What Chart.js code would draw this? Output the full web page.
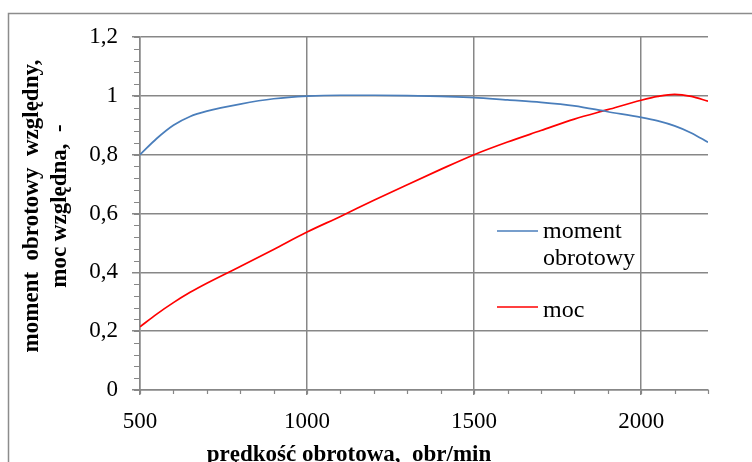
<!DOCTYPE html>
<html>
<head>
<meta charset="utf-8">
<script src="https://cdn.jsdelivr.net/npm/chart.js@4/dist/chart.umd.min.js"></script>
<style>
html,body{margin:0;padding:0;background:#fff;}
canvas{display:block;}
</style>
</head>
<body>
<canvas id="c" width="752" height="462"></canvas>
<script>
// ---- data ----
const rpm     = [500, 550, 600, 650, 700, 800, 900, 1000, 1100, 1200, 1300, 1400, 1500, 1600, 1700, 1800, 1900, 2000, 2050, 2100, 2150, 2200];
const moment  = [0.80, 0.855, 0.90, 0.93, 0.948, 0.972, 0.99, 0.999, 1.002, 1.002, 1.001, 0.998, 0.994, 0.986, 0.978, 0.966, 0.946, 0.927, 0.915, 0.898, 0.874, 0.842];
const moc     = [0.215, 0.258, 0.297, 0.332, 0.363, 0.42, 0.478, 0.537, 0.59, 0.645, 0.698, 0.75, 0.80, 0.843, 0.882, 0.921, 0.953, 0.985, 0.998, 1.005, 0.998, 0.982];
const seriesNames = [["moment", "obrotowy"], ["moc"]];
const xTitle = "prędkość obrotowa,  obr/min";
const yTitle = ["moment  obrotowy  względny,", "moc względna,  -"];
const yTicks = [0, 0.2, 0.4, 0.6, 0.8, 1, 1.2];
const xTicks = [500, 1000, 1500, 2000];

const GRID = '#878787';
const SERIF = '"Liberation Serif", "Times New Roman", serif';

const pts = arr => rpm.map((r, i) => ({x: r, y: arr[i]}));

const extras = {
  id: 'extras',
  beforeDraw(chart) {
    const ctx = chart.ctx;
    ctx.save();
    ctx.fillStyle = '#fff';
    ctx.fillRect(0, 0, chart.width, chart.height);
    ctx.strokeStyle = '#8c8c8c';
    ctx.lineWidth = 1.5;
    ctx.strokeRect(8.5, 13.5, 800, 500);
    ctx.restore();
  },
  afterDraw(chart) {
    const ctx = chart.ctx;
    const xs = chart.scales.x, ys = chart.scales.y;
    const ca = chart.chartArea;
    ctx.save();
    // minor ticks
    ctx.strokeStyle = GRID;
    ctx.lineWidth = 1.2;
    ctx.beginPath();
    for (let v = 0; v <= 1.2001; v += 0.04) {
      const y = Math.round(ys.getPixelForValue(v)) + 0.5;
      ctx.moveTo(ca.left - 6, y); ctx.lineTo(ca.left, y);
    }
    for (let v = 500; v <= 2200; v += 100) {
      const x = Math.round(xs.getPixelForValue(v)) + 0.5;
      ctx.moveTo(x, ca.bottom); ctx.lineTo(x, ca.bottom + 4);
    }
    ctx.stroke();

    // axis titles
    ctx.fillStyle = '#000';
    ctx.font = 'bold 23px ' + SERIF;
    ctx.textAlign = 'center';
    ctx.textBaseline = 'alphabetic';
    ctx.fillText(xTitle, 349, 461);
    const cy = 206;
    const bx = [38, 66];
    yTitle.forEach((t, i) => {
      ctx.save();
      ctx.translate(bx[i], cy);
      ctx.rotate(-Math.PI / 2);
      ctx.fillText(t, 0, 0);
      ctx.restore();
    });

    // legend
    ctx.font = '24px ' + SERIF;
    ctx.textAlign = 'left';
    const lineY = [231, 307];
    const baseY = [238, 317];
    chart.data.datasets.forEach((ds, i) => {
      ctx.strokeStyle = ds.borderColor;
      ctx.lineWidth = 1.6;
      ctx.beginPath();
      ctx.moveTo(497, lineY[i]); ctx.lineTo(538, lineY[i]);
      ctx.stroke();
      seriesNames[i].forEach((s, j) => {
        ctx.fillText(s, 543, baseY[i] + j * 27);
      });
    });
    ctx.restore();
  }
};

new Chart(document.getElementById('c'), {
  type: 'line',
  data: {
    datasets: [
      { label: seriesNames[0].join(' '), data: pts(moment), borderColor: '#4a7ebb', borderWidth: 1.7, pointRadius: 0, tension: 0.4, cubicInterpolationMode: 'monotone', fill: false },
      { label: seriesNames[1].join(' '), data: pts(moc), borderColor: '#ff0000', borderWidth: 1.7, pointRadius: 0, tension: 0.4, cubicInterpolationMode: 'monotone', fill: false }
    ]
  },
  options: {
    responsive: false,
    devicePixelRatio: 1,
    animation: false,
    events: [],
    layout: { padding: { left: 0, right: 44, top: 37, bottom: 0 } },
    plugins: { legend: { display: false }, tooltip: { enabled: false }, title: { display: false } },
    scales: {
      x: {
        type: 'linear',
        min: 500, max: 2200,
        afterFit(s) { s.height = 72; },
        afterBuildTicks(s) { s.ticks = xTicks.map(v => ({value: v})); },
        ticks: { color: '#000', font: { family: SERIF, size: 23 }, padding: 13, maxRotation: 0,
          callback: v => String(v) },
        grid: { color: GRID, lineWidth: 1.5, tickLength: 5, tickColor: GRID },
        border: { color: GRID, width: 1.5 }
      },
      y: {
        min: 0, max: 1.2,
        afterFit(s) { s.width = 140; },
        afterBuildTicks(s) { s.ticks = yTicks.map(v => ({value: v})); },
        ticks: {
          color: '#000', font: { family: SERIF, size: 23 }, padding: 14,
          callback: v => String(Math.round(v * 10) / 10).replace('.', ',')
        },
        grid: { color: GRID, lineWidth: 1.5, tickLength: 8, tickColor: GRID },
        border: { color: GRID, width: 1.5 }
      }
    }
  },
  plugins: [extras]
});
</script>
</body>
</html>
